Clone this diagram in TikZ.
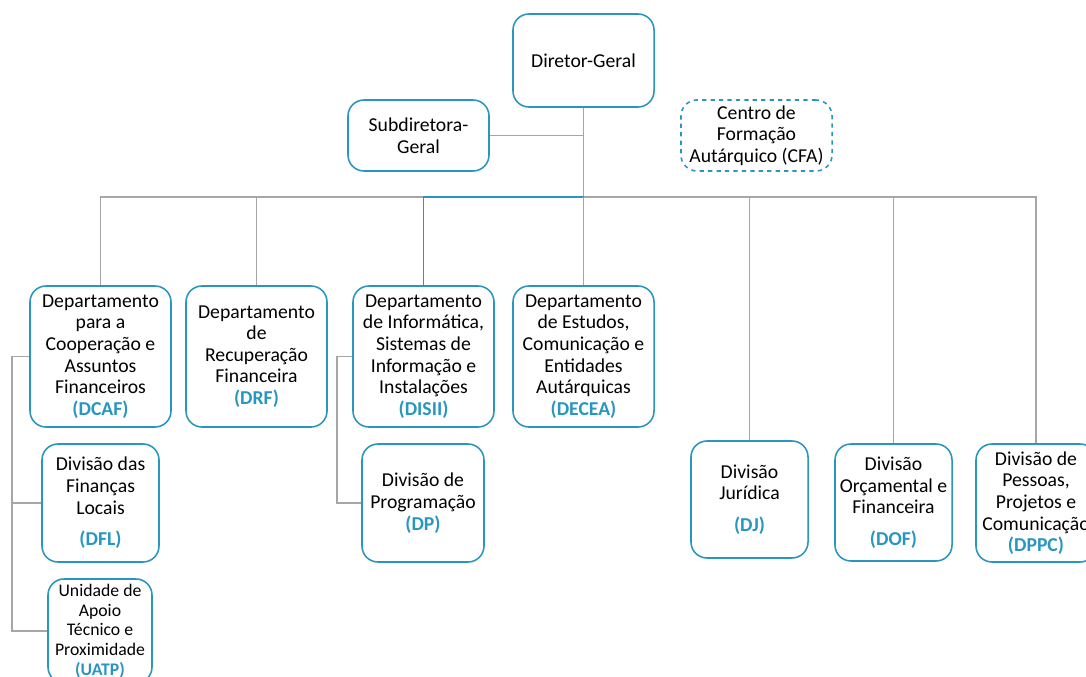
\documentclass[tikz,border=0pt]{standalone}
\usepackage{fontspec}
\setmainfont{Carlito}
\definecolor{orgteal}{RGB}{40,150,190}
\definecolor{orggray}{RGB}{166,166,166}
\newcommand{\abbr}[1]{{\bfseries\color{orgteal}(#1)}}
\begin{document}
\begin{tikzpicture}[x=0.025cm, y=-0.025cm,
    unit/.style={draw=orgteal, line width=1.1pt, rounded corners=0.4cm, align=center,
      inner sep=0pt, font=\fontsize{14}{15.4}\selectfont},
    link/.style={draw=orggray, line width=0.8pt},
    linkt/.style={draw=orgteal, line width=0.8pt}]
    \useasboundingbox (0,0) rectangle (1086,677);
    % top
    \node[unit, minimum width=3.525cm, minimum height=2.325cm] (dg) at (583.5,60.5) {Diretor-Geral};
    \node[unit, minimum width=3.525cm, minimum height=1.775cm] (sub) at (418.5,135.5) {Subdiretora-\\Geral};
    \node[unit, dashed, minimum width=3.775cm, minimum height=1.775cm] (cfa) at (756.5,135.5) {Centro de\\Formação\\Autárquico (CFA)};
    % departamentos
    \node[unit, minimum width=3.525cm, minimum height=3.525cm] (dcaf) at (100.5,356.5) {Departamento\\para a\\Cooperação e\\Assuntos\\Financeiros\\\abbr{DCAF}};
    \node[unit, minimum width=3.525cm, minimum height=3.525cm] (drf) at (256.5,356.5) {Departamento\\de\\Recuperação\\Financeira\\\abbr{DRF}};
    \node[unit, minimum width=3.525cm, minimum height=3.525cm] (disii) at (423.5,356.5) {Departamento\\de Informática,\\Sistemas de\\Informação e\\Instalações\\\abbr{DISII}};
    \node[unit, minimum width=3.525cm, minimum height=3.525cm] (decea) at (583.5,356.5) {Departamento\\de Estudos,\\Comunicação e\\Entidades\\Autárquicas\\\abbr{DECEA}};
    % divisoes
    \node[unit, minimum width=2.925cm, minimum height=2.95cm] (dfl) at (100.5,503) {Divisão das\\Finanças\\Locais\\[7pt]\abbr{DFL}};
    \node[unit, minimum width=2.6cm, minimum height=2.6cm, font=\fontsize{12.6}{14}\selectfont] (uatp) at (100,631) {Unidade de\\Apoio\\Técnico e\\Proximidade\\\abbr{UATP}};
    \node[unit, minimum width=3.05cm, minimum height=2.95cm] (dp) at (423,503) {Divisão de\\Programação\\\abbr{DP}};
    \node[unit, minimum width=2.925cm, minimum height=2.925cm] (dj) at (749.5,499.5) {Divisão\\Jurídica\\[7pt]\abbr{DJ}};
    \node[unit, minimum width=2.925cm, minimum height=2.925cm] (dof) at (893.5,502.5) {Divisão\\Orçamental e\\Financeira\\[7pt]\abbr{DOF}};
    \node[unit, minimum width=3cm, minimum height=2.95cm] (dppc) at (1036,503) {Divisão de\\Pessoas,\\Projetos e\\Comunicação\\\abbr{DPPC}};

    \coordinate (bus) at (583.5,197);
    \coordinate (ltree) at (12,356.5);
    \coordinate (itree) at (337,356.5);

    \draw[link] (dg) -- (bus);
    \draw[link] (sub.east) -- (sub.east -| dg.south);
    \draw[link] (dcaf.north) |- (bus);
    \draw[link] (drf.north) |- (bus);
    \draw[linkt] (disii.north) |- (bus);
    \draw[link] (decea.north) -- (bus);
    \draw[link] (dj.north) |- (bus);
    \draw[link] (dof.north) |- (bus);
    \draw[link] (dppc.north) |- (bus);
    \draw[link] (dcaf.west) -- (ltree) |- (dfl.west);
    \draw[link] (ltree) |- (uatp.west);
    \draw[link] (disii.west) -- (itree) |- (dp.west);
\end{tikzpicture}
\end{document}
